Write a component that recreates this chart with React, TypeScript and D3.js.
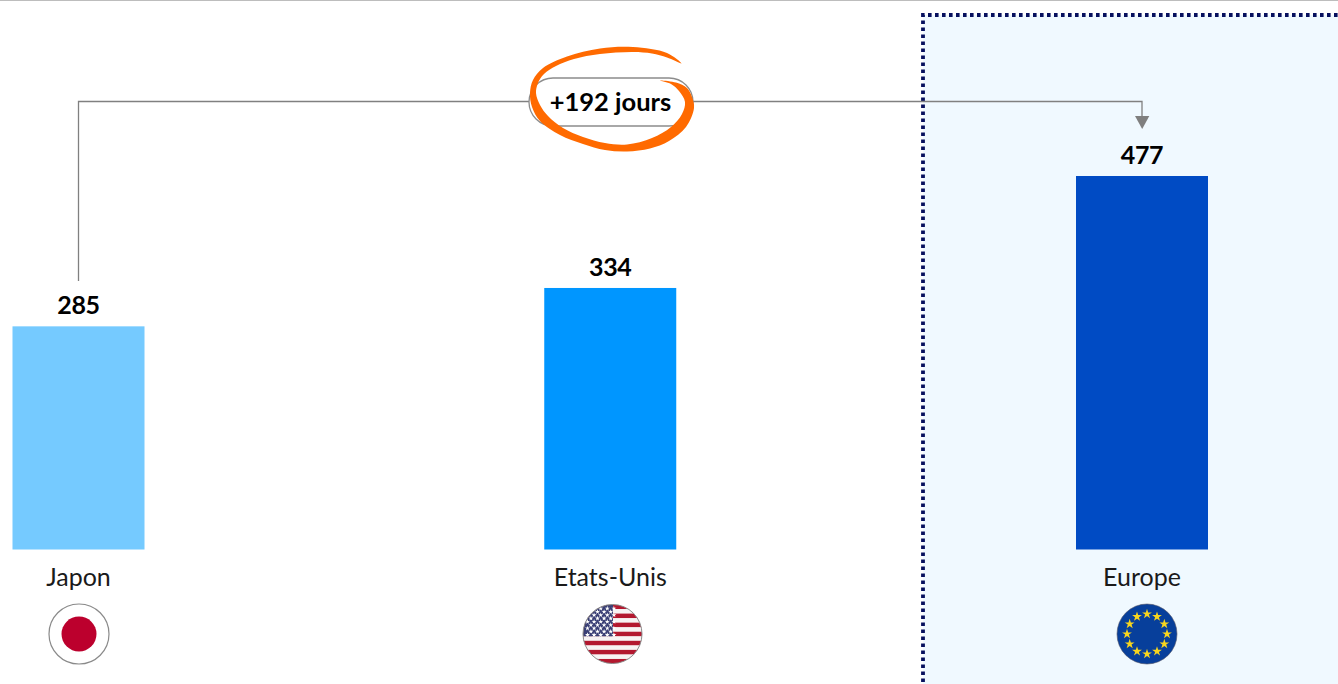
import React from "react";
import * as d3 from "d3";

const categories = ["Japon", "Etats-Unis", "Europe"];
const values = [285, 334, 477];
const barColors = ["#75caff", "#0096ff", "#004bc4"];
const flagCenters = [79, 612.5, 1147];
const deltaLabel = "+192 jours";
const FONT = "Lato, Carlito, Calibri, sans-serif";

const W = 1338, H = 684;
const x = d3.scalePoint<string>().domain(categories).range([78.5, 1142]);
const y = d3.scaleLinear().domain([0, 477]).range([549.5, 176]);
const BAR_W = 132;

const swooshPts: [number, number][] = [
  [681.5, 63.5], [667, 53], [633, 47], [600, 48.5], [567, 56.5], [543, 68], [533, 80], [530, 93], [532, 107], [540, 121], [560, 135], [583, 144], [605, 150], [627, 151.5], [650, 148.5], [669, 141], [686, 127], [694, 108], [692, 97], [687, 88], [676, 82.5], [660, 80.5],
  [671, 84], [679, 91], [685, 102], [682, 114], [671, 127], [652, 138], [627, 144.5], [605, 143], [583, 137], [563, 128], [548, 116], [540, 105], [536, 93], [538, 83], [544, 74], [556, 66], [574, 59], [600, 54], [633, 52], [652, 53.5], [667, 57.5],
];

const starPath = d3.symbol(d3.symbolStar, 30)()!;
const smallStar = d3.symbol(d3.symbolStar, 8)()!;
const usStripes = d3.range(13);
const usStarRows = d3.range(9);
const euStars = d3.range(12);

function UsFlag({ cx, cy }: { cx: number; cy: number }) {
  const r = 29.5;
  const sy = d3.scaleBand<number>().domain(usStripes).range([-r, r]);
  return (
    <g transform={`translate(${cx},${cy})`}>
      <clipPath id="us"><circle r={r} /></clipPath>
      <g clipPath="url(#us)">
        {usStripes.map((i) => (
          <rect key={i} x={-r} y={sy(i)} width={2 * r} height={sy.bandwidth() + 0.3} fill={i % 2 ? "#f7f3f3" : "#b3182f"} />
        ))}
        <rect x={-r} y={-r} width={r + 0.5} height={sy.bandwidth() * 7} fill="#3a3f75" />
        {usStarRows.map((row) =>
          d3.range(row % 2 ? 4 : 5).map((c) => (
            <path key={`${row}-${c}`} d={smallStar} fill="#fff"
              transform={`translate(${-25 + (row % 2 ? 3.4 : 0) + c * 6.6},${-25.5 + row * 3.3})`} />
          ))
        )}
      </g>
      <circle r={r} fill="none" stroke="#8a8a8a" strokeWidth={1} />
    </g>
  );
}

function EuFlag({ cx, cy }: { cx: number; cy: number }) {
  const r = 30;
  return (
    <g transform={`translate(${cx},${cy})`}>
      <circle r={r} fill="#073f9b" stroke="#556" strokeWidth={0.6} />
      {euStars.map((i) => {
        const a = (i * Math.PI) / 6;
        return <path key={i} d={starPath} fill="#f7d51e" transform={`translate(${20 * Math.sin(a)},${-20 * Math.cos(a)})`} />;
      })}
    </g>
  );
}

export default function App() {
  const swoosh = d3.line().curve(d3.curveCatmullRomClosed.alpha(0.5))(swooshPts)!;
  const xJ = x("Japon")!, xE = x("Europe")!;
  const connector = d3.line()([[xJ, 281], [xJ, 101.5], [xE, 101.5], [xE, 118]])!;
  return (
    <svg width={W} height={H} viewBox={`0 0 ${W} ${H}`} style={{ position: "absolute", left: 0, top: 0, display: "block", background: "#fff" }}>
      <rect x={0} y={0} width={W} height={1} fill="#bdbdbd" />
      <rect x={923} y={15} width={W - 923} height={H - 15} fill="#f0f9ff" />
      <path d={`M923 ${H + 5}V15H${W + 5}`} fill="none" stroke="#07105e" strokeWidth={3.8} strokeDasharray="3.6 3.4" />

      {categories.map((c, i) => (
        <g key={c}>
          <rect x={x(c)! - BAR_W / 2} y={y(values[i])} width={BAR_W} height={y(0) - y(values[i])} fill={barColors[i]} />
          <text x={x(c)} y={y(values[i]) - 12} textAnchor="middle" fontFamily={FONT} fontWeight={700} fontSize={25} letterSpacing={-0.4} fill="#000">{values[i]}</text>
          <text x={x(c)} y={586} textAnchor="middle" fontFamily={FONT} fontSize={25} fill="#1a1a1a">{c}</text>
        </g>
      ))}

      <path d={connector} fill="none" stroke="#808080" strokeWidth={1.3} />
      <path d={d3.line()([[1135, 116], [1149.3, 116], [1142.2, 129]])!} fill="#7f7f7f" />
      <rect x={529} y={78} width={164} height={48} rx={24} fill="#fff" stroke="#8c8c8c" strokeWidth={1.3} />
      <text x={610.5} y={110.5} textAnchor="middle" fontFamily={FONT} fontWeight={700} fontSize={25.5} fill="#000">{deltaLabel}</text>
      <path d={swoosh} fill="#ff6a00" />

      <g transform={`translate(${flagCenters[0]},634)`}>
        <circle r={30} fill="#fff" stroke="#8a8a8a" strokeWidth={1.2} />
        <circle r={17.5} fill="#bc002d" />
      </g>
      <UsFlag cx={flagCenters[1]} cy={634} />
      <EuFlag cx={flagCenters[2]} cy={634} />
    </svg>
  );
}
